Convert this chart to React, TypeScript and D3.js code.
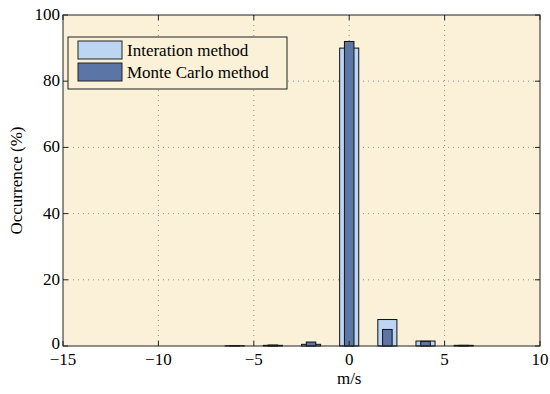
import React from 'react'
import * as d3 from 'd3'

const centers = [-6, -4, -2, 0, 2, 4, 6]
const interaction = [0.1, 0.2, 0.5, 90, 8, 1.5, 0.2]
const monteCarlo = [0.1, 0.3, 1.2, 92, 5, 1.4, 0.2]
const xTicks = [-15, -10, -5, 0, 5, 10]
const yTicks = [0, 20, 40, 60, 80, 100]
const seriesNames = ['Interation method', 'Monte Carlo method']

const W = 550
const H = 394
const margin = { left: 63, right: 10, top: 15, bottom: 48 }
const font = "'Liberation Serif', 'Times New Roman', Times, serif"
const lightBlue = '#bcd5f2'
const darkBlue = '#5b76a6'
const bg = '#faf1d8'

export default function App() {
  const x = d3.scaleLinear().domain([-15, 10]).range([margin.left, W - margin.right])
  const y = d3.scaleLinear().domain([0, 100]).range([H - margin.bottom, margin.top])
  const pw = x(10) - x(-15)
  const ph = y(0) - y(100)
  const wideW = x(1) - x(0)
  const narrowW = x(0.5) - x(0)
  const fmt = (v: number) => (v < 0 ? '\u2212' + Math.abs(v) : String(v))
  const colors = [lightBlue, darkBlue]

  return (
    <svg width={W} height={H} fontFamily={font} fontSize={17}
      style={{ position: 'absolute', left: 0, top: 0, background: '#fff' }}>
      <rect x={x(-15)} y={y(100)} width={pw} height={ph} fill={bg} />

      {/* grid */}
      <g stroke="#777" strokeWidth={0.8} strokeDasharray="1,4">
        {xTicks.slice(1, -1).map(t => (
          <line key={'gx' + t} x1={x(t)} x2={x(t)} y1={y(0)} y2={y(100)} />
        ))}
        {yTicks.slice(1, -1).map(t => (
          <line key={'gy' + t} x1={x(-15)} x2={x(10)} y1={y(t)} y2={y(t)} />
        ))}
      </g>

      {/* bars */}
      {centers.map((c, i) => (
        <rect key={'a' + c} x={x(c) - wideW / 2} y={y(interaction[i])} width={wideW}
          height={y(0) - y(interaction[i])} fill={lightBlue} stroke="#111" />
      ))}
      {centers.map((c, i) => (
        <rect key={'b' + c} x={x(c) - narrowW / 2} y={y(monteCarlo[i])} width={narrowW}
          height={y(0) - y(monteCarlo[i])} fill={darkBlue} stroke="#111" />
      ))}

      {/* frame */}
      <rect x={x(-15)} y={y(100)} width={pw} height={ph} fill="none" stroke="#222" />

      {/* ticks */}
      <g stroke="#222">
        {xTicks.map(t => (
          <g key={'tx' + t}>
            <line x1={x(t)} x2={x(t)} y1={y(0)} y2={y(0) - 5} />
            <line x1={x(t)} x2={x(t)} y1={y(100)} y2={y(100) + 5} />
          </g>
        ))}
        {yTicks.map(t => (
          <g key={'ty' + t}>
            <line x1={x(-15)} x2={x(-15) + 5} y1={y(t)} y2={y(t)} />
            <line x1={x(10)} x2={x(10) - 5} y1={y(t)} y2={y(t)} />
          </g>
        ))}
      </g>

      {xTicks.map(t => (
        <text key={'lx' + t} x={x(t)} y={y(0) + 19} textAnchor="middle">{fmt(t)}</text>
      ))}
      {yTicks.map(t => (
        <text key={'ly' + t} x={x(-15) - 3} y={y(t) + (t === 0 ? 3 : 5)} textAnchor="end">{t}</text>
      ))}

      <text x={x(0)} y={384} textAnchor="middle">m/s</text>
      <text transform={`translate(22, ${(y(0) + y(100)) / 2}) rotate(-90)`} textAnchor="middle">
        Occurrence (%)
      </text>

      {/* legend */}
      <rect x={68} y={37} width={219} height={52} fill={bg} stroke="#222" />
      {seriesNames.map((name, i) => (
        <g key={name}>
          <rect x={78} y={41 + i * 22} width={44} height={18} fill={colors[i]} stroke="#222" />
          <text x={127} y={56 + i * 22}>{name}</text>
        </g>
      ))}
    </svg>
  )
}
